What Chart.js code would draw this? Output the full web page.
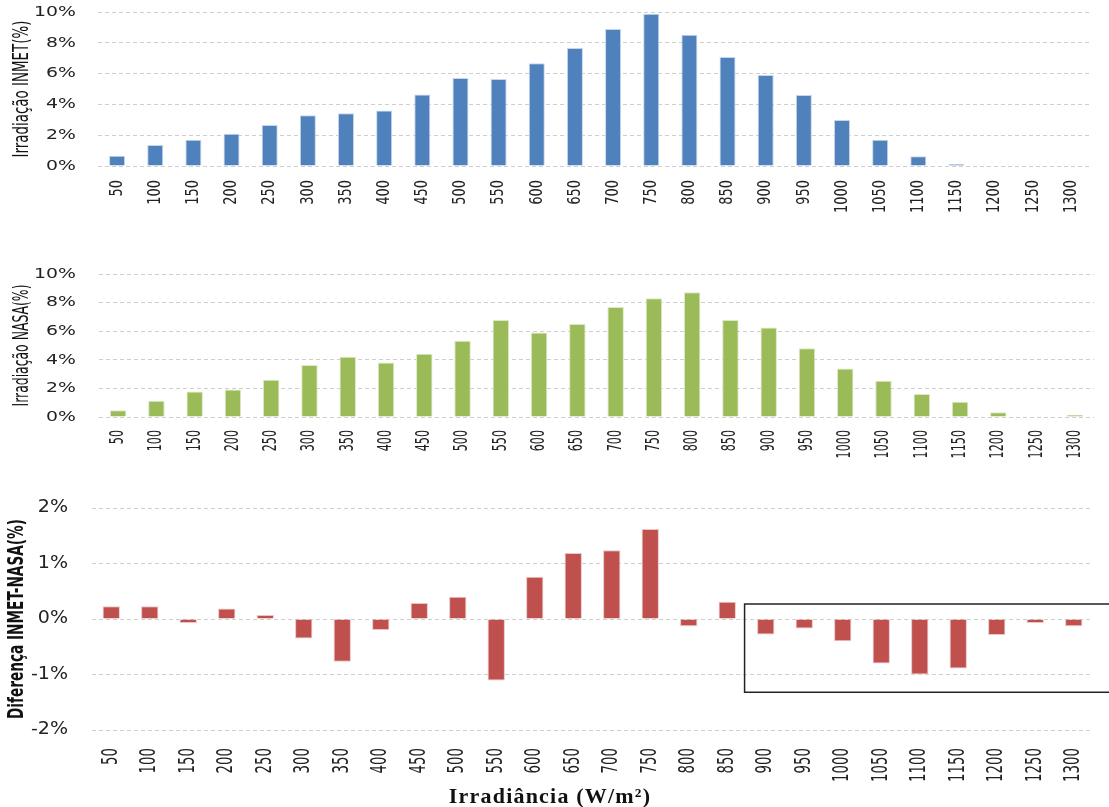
<!DOCTYPE html>
<html lang="pt">
<head>
    <meta charset="UTF-8">
    <title>Irradiação INMET x NASA</title>
    <script src="https://cdn.jsdelivr.net/npm/chart.js"></script>
    <style>
        body {
            margin: 0;
            background: #fff;
            width: 1109px;
            height: 807px;
            position: relative;
            overflow: hidden;
        }
        canvas {
            position: absolute;
            left: 0;
        }
        #xTitle {
            position: absolute;
            left: 0;
            width: 1100px;
            top: 785px;
            text-align: center;
            font-family: 'Liberation Serif', 'Times New Roman', serif;
            font-weight: bold;
            font-size: 22px;
            line-height: 22px;
            letter-spacing: 1.2px;
            color: #111;
        }
    </style>
</head>
<body>
    <canvas id="inmetChart" width="1109" height="230" style="top:0px"></canvas>
    <canvas id="nasaChart" width="1109" height="218" style="top:262px"></canvas>
    <canvas id="diffChart" width="1109" height="311" style="top:496px"></canvas>
    <div id="xTitle">Irradiância (W/m²)</div>
    <script>
        const categories = ['50', '100', '150', '200', '250', '300', '350', '400', '450', '500', '550', '600', '650',
            '700', '750', '800', '850', '900', '950', '1000', '1050', '1100', '1150', '1200', '1250', '1300'];

        const inmetValues = [0.67, 1.36, 1.71, 2.10, 2.66, 3.29, 3.42, 3.61, 4.65, 5.71, 5.65, 6.67, 7.66,
            8.90, 9.89, 8.53, 7.08, 5.91, 4.61, 2.99, 1.71, 0.63, 0.13, 0, 0, 0];

        const nasaValues = [0.47, 1.14, 1.79, 1.93, 2.60, 3.63, 4.21, 3.81, 4.42, 5.33, 6.79, 5.91, 6.51,
            7.70, 8.30, 8.72, 6.79, 6.26, 4.81, 3.40, 2.53, 1.60, 1.07, 0.33, 0.05, 0.16];

        const diffValues = [0.23, 0.23, -0.07, 0.19, 0.07, -0.35, -0.77, -0.20, 0.29, 0.40, -1.11, 0.76, 1.19,
            1.24, 1.62, -0.13, 0.31, -0.28, -0.17, -0.40, -0.80, -1.00, -0.89, -0.29, -0.07, -0.13];

        const percentTicks = [0, 2, 4, 6, 8, 10];
        const diffTicks = [-2, -1, 0, 1, 2];

        // highlighted region in the difference chart
        const boxFrom = '900';
        const boxTop = 0.27;
        const boxBottom = -1.32;

        const baseFont = "'DejaVu Sans', Verdana, sans-serif";

        const boxPlugin = {
            id: 'highlightBox',
            afterDatasetsDraw(chart, args, opts) {
                if (!opts.enabled) return;
                const x = chart.scales.x, y = chart.scales.y;
                const step = x.getPixelForValue(1) - x.getPixelForValue(0);
                const left = x.getPixelForValue(categories.indexOf(opts.from)) - step * 0.55;
                const top = y.getPixelForValue(opts.top);
                const bottom = y.getPixelForValue(opts.bottom);
                const ctx = chart.ctx;
                ctx.save();
                ctx.strokeStyle = '#222';
                ctx.lineWidth = 1.5;
                ctx.strokeRect(left, top, chart.width - left + 2, bottom - top);
                ctx.restore();
            }
        };

        // the picture is a bit stretched sideways, so the axis texts are drawn
        // with their own horizontal/vertical scaling
        const axisText = {
            id: 'axisText',
            afterDraw(chart, args, o) {
                const ctx = chart.ctx;
                const xs = chart.scales.x, ys = chart.scales.y, area = chart.chartArea;
                ctx.save();
                ctx.fillStyle = '#222';

                ctx.font = o.yTick.size + 'px ' + baseFont;
                ctx.textAlign = 'right';
                ctx.textBaseline = 'middle';
                ys.ticks.forEach(t => {
                    ctx.save();
                    ctx.translate(o.yTick.right, ys.getPixelForValue(t.value));
                    ctx.scale(o.yTick.stretch, 1);
                    ctx.fillText(t.value + '%', 0, 0);
                    ctx.restore();
                });

                ctx.font = o.xTick.size + 'px ' + baseFont;
                categories.forEach((c, i) => {
                    ctx.save();
                    ctx.translate(xs.getPixelForTick(i), area.bottom + o.xTick.gap);
                    ctx.rotate(-Math.PI / 2);
                    ctx.scale(o.xTick.along, o.xTick.across);
                    ctx.fillText(c, 0, 0);
                    ctx.restore();
                });

                const t = o.yTitle;
                ctx.fillStyle = '#111';
                ctx.font = (t.weight || 'normal') + ' ' + t.size + 'px ' + baseFont;
                ctx.textAlign = 'center';
                const w = ctx.measureText(t.text).width;
                ctx.translate(t.x, (area.top + area.bottom) / 2);
                ctx.rotate(-Math.PI / 2);
                ctx.scale(t.length / w, t.across);
                ctx.fillText(t.text, 0, 0);
                ctx.restore();
            }
        };

        function makeChart(id, cfg) {
            const ctx = document.getElementById(id).getContext('2d');
            return new Chart(ctx, {
                type: 'bar',
                data: {
                    labels: categories,
                    datasets: [{
                        data: cfg.values,
                        backgroundColor: cfg.color,
                        borderColor: cfg.edge,
                        borderWidth: 1,
                        barPercentage: cfg.barPct,
                        categoryPercentage: 1
                    }]
                },
                options: {
                    responsive: false,
                    animation: false,
                    devicePixelRatio: 1,
                    layout: { padding: { top: 12, right: cfg.padRight, left: 0, bottom: 0 } },
                    plugins: {
                        legend: { display: false },
                        tooltip: { enabled: false },
                        highlightBox: cfg.box || { enabled: false },
                        axisText: cfg.text
                    },
                    scales: {
                        x: {
                            grid: { display: false },
                            border: { display: false },
                            ticks: { display: false, autoSkip: false },
                            afterFit: s => { s.height = cfg.xHeight; }
                        },
                        y: {
                            min: cfg.ticks[0],
                            max: cfg.ticks[cfg.ticks.length - 1],
                            afterBuildTicks: s => { s.ticks = cfg.ticks.map(v => ({ value: v })); },
                            grid: { color: '#cfcfcf', drawTicks: false },
                            border: { display: false, dash: [4, 3] },
                            ticks: { display: false },
                            afterFit: s => { s.width = cfg.yWidth; }
                        }
                    }
                },
                plugins: [boxPlugin, axisText]
            });
        }

        makeChart('inmetChart', {
            values: inmetValues,
            color: '#4F81BD',
            edge: '#C6D5EA',
            barPct: 0.42,
            ticks: percentTicks,
            yWidth: 98,
            padRight: 19,
            xHeight: 64,
            text: {
                yTick: { size: 14.5, stretch: 1.3, right: 76 },
                xTick: { size: 17.5, along: 0.74, across: 1.05, gap: 14 },
                yTitle: { text: 'Irradiação INMET(%)', size: 17, length: 137, across: 1.2, x: 23 }
            }
        });

        makeChart('nasaChart', {
            values: nasaValues,
            color: '#9BBB59',
            edge: '#DCE8C6',
            barPct: 0.43,
            ticks: percentTicks,
            yWidth: 99,
            padRight: 15,
            xHeight: 63,
            text: {
                yTick: { size: 14.5, stretch: 1.3, right: 76 },
                xTick: { size: 18, along: 0.62, across: 1.05, gap: 13 },
                yTitle: { text: 'Irradiação NASA(%)', size: 17, length: 122, across: 1.2, x: 23 }
            }
        });

        makeChart('diffChart', {
            values: diffValues,
            color: '#C0504D',
            edge: '#E9C4C3',
            barPct: 0.45,
            ticks: diffTicks,
            yWidth: 92,
            padRight: 16,
            xHeight: 77,
            box: { enabled: true, from: boxFrom, top: boxTop, bottom: boxBottom },
            text: {
                yTick: { size: 17, stretch: 1.12, right: 68 },
                xTick: { size: 18.5, along: 0.72, across: 1.1, gap: 18 },
                yTitle: { text: 'Diferença INMET-NASA(%)', size: 19, weight: 'bold', length: 200, across: 1.1, x: 18 }
            }
        });
    </script>
</body>
</html>
